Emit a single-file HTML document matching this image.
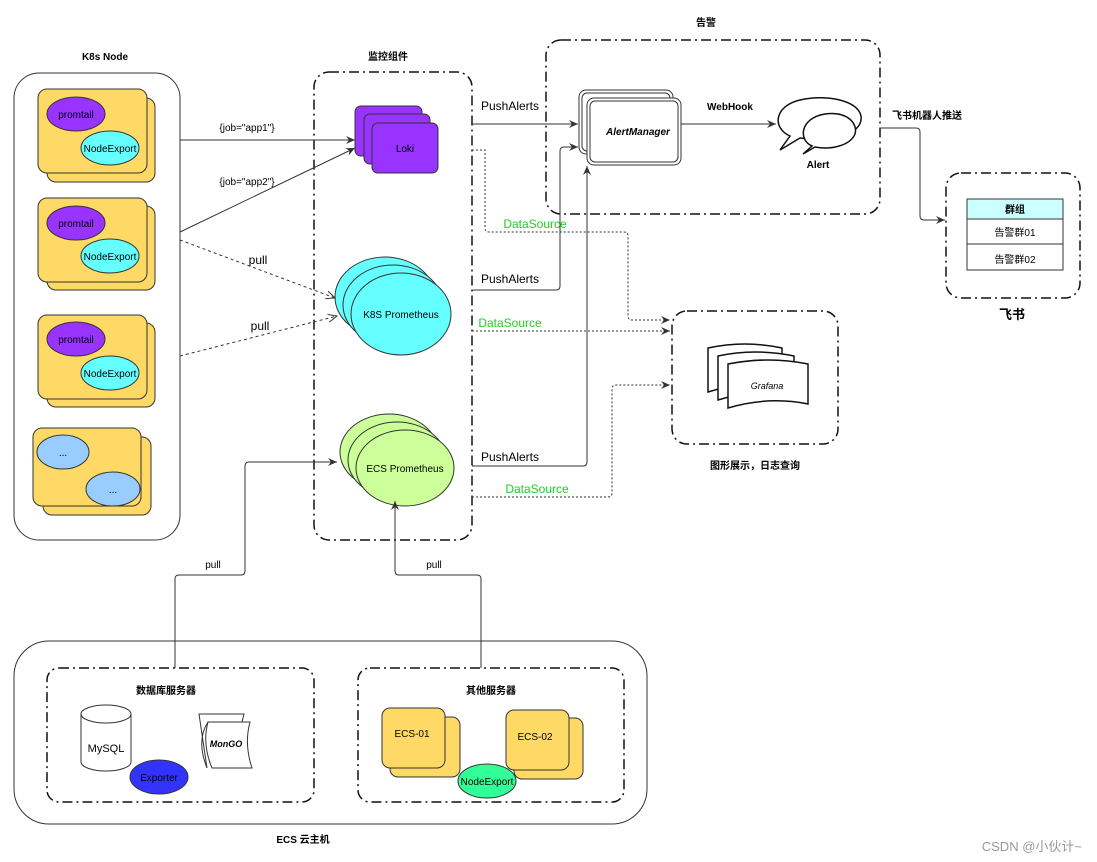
<!DOCTYPE html>
<html><head><meta charset="utf-8"><style>
html,body{margin:0;padding:0;background:#fff;}
svg{display:block;font-family:"Liberation Sans","Noto Sans CJK SC",sans-serif;}
</style></head><body>
<svg width="1097" height="862" viewBox="0 0 1097 862" xmlns="http://www.w3.org/2000/svg">
<defs>
<marker id="a" markerWidth="10" markerHeight="10" refX="9" refY="5" orient="auto" markerUnits="userSpaceOnUse"><path d="M0,1 L9,5 L0,9 L3,5 Z" fill="#333"/></marker>
<marker id="o" markerWidth="10" markerHeight="10" refX="9" refY="5" orient="auto" markerUnits="userSpaceOnUse"><path d="M0,1 L9,5 L0,9" fill="none" stroke="#333"/></marker>
</defs>
<g font-size="11" text-anchor="middle" fill="#000">
<text x="105" y="60" font-weight="bold" font-size="10">K8s Node</text>
<rect x="14" y="73" width="166" height="467" rx="25" fill="#fff" stroke="#333"/>
<g stroke="#333" fill="#FFD966">
<rect x="47" y="98" width="108" height="84" rx="9"/><rect x="38" y="89" width="109" height="84" rx="9"/>
<rect x="47" y="206" width="108" height="84" rx="9"/><rect x="38" y="198" width="109" height="84" rx="9"/>
<rect x="47" y="323" width="108" height="84" rx="9"/><rect x="38" y="315" width="109" height="84" rx="9"/>
<rect x="43" y="437" width="108" height="78" rx="9"/><rect x="33" y="428" width="108" height="78" rx="9"/>
</g>
<g stroke="#333">
<ellipse cx="76" cy="114" rx="29" ry="17" fill="#9933FF"/><ellipse cx="110" cy="148" rx="29" ry="17" fill="#66FFFF"/>
<ellipse cx="76" cy="223" rx="29" ry="17" fill="#9933FF"/><ellipse cx="110" cy="256" rx="29" ry="17" fill="#66FFFF"/>
<ellipse cx="76" cy="339" rx="29" ry="17" fill="#9933FF"/><ellipse cx="110" cy="373" rx="29" ry="17" fill="#66FFFF"/>
<ellipse cx="63" cy="452" rx="26" ry="17" fill="#99CCFF"/><ellipse cx="113" cy="489" rx="27" ry="17" fill="#99CCFF"/>
</g>
<g font-size="10"><text x="76" y="118">promtail</text><text x="110" y="152">NodeExport</text>
<text x="76" y="227">promtail</text><text x="110" y="260">NodeExport</text>
<text x="76" y="343">promtail</text><text x="110" y="377">NodeExport</text>
<text x="63" y="456">...</text><text x="113" y="493">...</text></g>

<text x="388" y="60" font-weight="bold" font-size="10">监控组件</text>
<rect x="314" y="72" width="158" height="468" rx="15" fill="none" stroke="#111" stroke-width="1.5" stroke-dasharray="10,4,2,4"/>
<g stroke="#333" fill="#9933FF">
<rect x="355" y="106" width="67" height="50" rx="6"/><rect x="364" y="114" width="66" height="50" rx="6"/><rect x="372" y="123" width="66" height="50" rx="6"/></g>
<text x="405" y="152" font-size="10">Loki</text>
<g stroke="#333" fill="#66FFFF">
<ellipse cx="385" cy="297" rx="50" ry="40"/><ellipse cx="393" cy="305" rx="50" ry="40"/><ellipse cx="401" cy="314" rx="50" ry="41"/></g>
<text x="401" y="318" font-size="10">K8S Prometheus</text>
<g stroke="#333" fill="#CCFF99">
<ellipse cx="389" cy="452" rx="49" ry="38"/><ellipse cx="397" cy="460" rx="49" ry="38"/><ellipse cx="405" cy="468" rx="49" ry="38"/></g>
<text x="405" y="472" font-size="10">ECS Prometheus</text>

<text x="706" y="26" font-weight="bold" font-size="10">告警</text>
<rect x="546" y="40" width="334" height="174" rx="15" fill="none" stroke="#111" stroke-width="1.5" stroke-dasharray="10,4,2,4"/>
<g fill="#fff" stroke="#333">
<rect x="579" y="90" width="94" height="64" rx="7"/><rect x="582" y="93" width="88" height="58" rx="5"/>
<rect x="587" y="98" width="94" height="67" rx="7"/><rect x="590" y="101" width="88" height="61" rx="5"/></g>
<text x="638" y="135" font-size="10" font-weight="bold" font-style="italic">AlertManager</text>
<g fill="#fff" stroke="#111" stroke-width="1.5">
<path d="M790,136 C772,128 774,106 800,100 C825,94 858,100 861,116 C863,130 845,138 820,140 L800,138 L780,150 Z"/>
<path d="M812,146 C798,140 800,118 825,114 C848,111 858,124 855,134 C850,146 830,150 815,147 L803,154 Z"/>
</g>
<text x="818" y="168" font-size="10" font-weight="bold">Alert</text>
<text x="730" y="110" font-size="10" font-weight="bold">WebHook</text>

<text x="927" y="119" font-size="10" font-weight="bold">飞书机器人推送</text>
<rect x="946" y="173" width="134" height="125" rx="15" fill="none" stroke="#111" stroke-width="1.5" stroke-dasharray="10,4,2,4"/>
<rect x="967" y="199" width="96" height="20" fill="#CCFFFF" stroke="#333"/>
<rect x="967" y="219" width="96" height="25" fill="#fff" stroke="#333"/>
<rect x="967" y="244" width="96" height="26" fill="#fff" stroke="#333"/>
<text x="1015" y="213" font-size="10" font-weight="bold">群组</text>
<text x="1015" y="236" font-size="10">告警群01</text>
<text x="1015" y="263" font-size="10">告警群02</text>
<text x="1012" y="319" font-size="13" font-weight="bold">飞书</text>

<rect x="672" y="311" width="166" height="133" rx="15" fill="none" stroke="#111" stroke-width="1.5" stroke-dasharray="10,4,2,4"/>
<g fill="#fff" stroke="#111" stroke-width="1.5">
<path d="M708,348 Q745,340 782,348 L782,388 Q745,380 708,392 Z"/>
<path d="M718,356 Q755,348 794,356 L794,396 Q755,388 718,400 Z"/>
<path d="M728,364 Q768,356 808,364 L808,404 Q768,396 728,408 Z"/>
</g>
<text x="767" y="389" font-size="9" font-style="italic">Grafana</text>
<text x="755" y="469" font-size="10" font-weight="bold">图形展示，日志查询</text>

<rect x="14" y="641" width="633" height="183" rx="35" fill="#fff" stroke="#333"/>
<text x="303" y="843" font-size="10" font-weight="bold">ECS 云主机</text>
<rect x="47" y="668" width="267" height="134" rx="12" fill="none" stroke="#111" stroke-width="1.5" stroke-dasharray="10,4,2,4"/>
<rect x="358" y="668" width="266" height="134" rx="12" fill="none" stroke="#111" stroke-width="1.5" stroke-dasharray="10,4,2,4"/>
<text x="166" y="694" font-size="10" font-weight="bold">数据库服务器</text>
<text x="491" y="694" font-size="10" font-weight="bold">其他服务器</text>
<path d="M81,714 L81,762 A25,9 0 0 0 131,762 L131,714" fill="#fff" stroke="#333"/>
<ellipse cx="106" cy="714" rx="25" ry="9" fill="#fff" stroke="#333"/>
<text x="106" y="752" font-size="11">MySQL</text>
<ellipse cx="159" cy="777" rx="29" ry="17" fill="#3333FF" stroke="#333"/>
<text x="159" y="781" font-size="10">Exporter</text>
<g fill="#fff" stroke="#333">
<path d="M199,714 L244,714 L242,722 L208,722 Q196,740 207,768 Z"/>
<path d="M208,722 L250,722 Q244,744 252,768 L212,768 Q202,744 208,722 Z"/></g>
<text x="226" y="747" font-size="9" font-weight="bold" font-style="italic">MonGO</text>
<g fill="#FFD966" stroke="#333">
<rect x="390" y="717" width="70" height="60" rx="8"/><rect x="382" y="708" width="63" height="60" rx="8"/>
<rect x="514" y="718" width="69" height="61" rx="8"/><rect x="506" y="710" width="63" height="60" rx="8"/></g>
<text x="412" y="737" font-size="10">ECS-01</text>
<text x="535" y="740" font-size="10">ECS-02</text>
<ellipse cx="487" cy="781" rx="29" ry="17" fill="#33FF99" stroke="#333"/>
<text x="487" y="785" font-size="10">NodeExport</text>
</g>

<g fill="none" stroke="#333" stroke-width="1">
<path d="M180,140 L355,140" marker-end="url(#a)"/>
<path d="M180,232 L355,148" marker-end="url(#a)"/>
<path d="M180,240 L335,298" stroke-dasharray="3,3" marker-end="url(#o)"/>
<path d="M180,356 L337,316" stroke-dasharray="3,3" marker-end="url(#o)"/>
<path d="M472,124 L578,124" marker-end="url(#a)"/>
<path d="M472,290 L556,290 Q560,290 560,286 L560,151 Q560,147 564,147 L578,147" marker-end="url(#a)"/>
<path d="M472,466 L583,466 Q587,466 587,462 L587,166" marker-end="url(#a)"/>
<path d="M681,124 L776,124" marker-end="url(#a)"/>
<path d="M880,128 L916,128 Q920,128 920,132 L920,216 Q920,220 924,220 L945,220" marker-end="url(#a)"/>
<path d="M472,150 L485,150 L485,228 Q485,232 489,232 L624,232 Q628,232 628,236 L628,316 Q628,320 632,320 L670,320" stroke-dasharray="2,2" marker-end="url(#a)"/>
<path d="M472,331 L670,331" stroke-dasharray="2,2" marker-end="url(#a)"/>
<path d="M472,497 L608,497 Q612,497 612,493 L612,389 Q612,385 616,385 L670,385" stroke-dasharray="2,2" marker-end="url(#a)"/>
<path d="M175,668 L175,579 Q175,575 179,575 L241,575 Q245,575 245,571 L245,466 Q245,462 249,462 L337,462" marker-end="url(#a)"/>
<path d="M481,668 L481,579 Q481,575 477,575 L399,575 Q395,575 395,571 L395,501" marker-end="url(#a)"/>
</g>
<g font-size="10" text-anchor="middle">
<text x="247" y="131">{job="app1"}</text>
<text x="247" y="185">{job="app2"}</text>
<text x="258" y="264" font-size="12">pull</text>
<text x="260" y="330" font-size="12">pull</text>
<text x="510" y="110" font-size="12">PushAlerts</text>
<text x="510" y="283" font-size="12">PushAlerts</text>
<text x="510" y="461" font-size="12">PushAlerts</text>
<text x="535" y="228" font-size="12" fill="#22CC22">DataSource</text>
<text x="510" y="327" font-size="12" fill="#22CC22">DataSource</text>
<text x="537" y="493" font-size="12" fill="#22CC22">DataSource</text>
<text x="213" y="568">pull</text>
<text x="434" y="568">pull</text>
</g>
<text x="1082" y="851" font-size="13" text-anchor="end" fill="#999">CSDN @小伙计~</text>
</svg>
</body></html>
